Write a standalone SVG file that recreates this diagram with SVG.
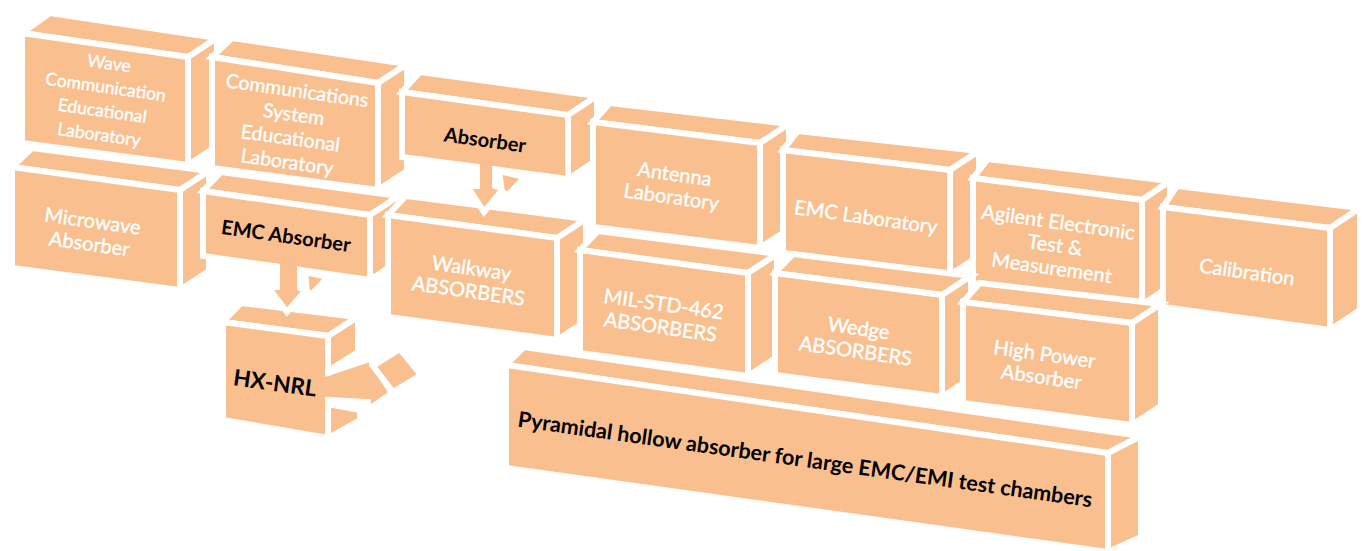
<svg xmlns="http://www.w3.org/2000/svg" width="1366" height="551" viewBox="0 0 1366 551">
<style>
.f{fill:#F9BF8F;stroke:#FFFFFF;stroke-width:6;stroke-linejoin:miter}
.p{fill:#F9BF8F}
.w{font-family:Lato,"Open Sans",sans-serif;font-size:20px;fill:#FFFFFF;stroke:#FFFFFF;stroke-width:0.35;text-anchor:middle}
.b{font-family:Lato,"Open Sans",sans-serif;font-weight:bold;font-size:20px;fill:#000000;text-anchor:middle}
</style>
<rect width="1366" height="551" fill="#FFFFFF"/>
<g id="node-wave">
<polygon class="f" points="22,33 188,57 217,38 50,13"/>
<polygon class="f" points="188,57 217,38 217,146 188,165"/>
<polygon class="f" points="22,33 188,57 188,165 22,143"/>
<text class="w" style="font-size:17.5px" transform="translate(104,99) rotate(8)"><tspan x="0" y="-30">Wave</tspan><tspan x="0" dy="24">Communication</tspan><tspan x="0" dy="24">Educational</tspan><tspan x="0" dy="24">Laboratory</tspan></text>
</g>
<g id="node-comm">
<polygon class="f" points="212,57 378,83 407,64 232,38"/>
<polygon class="f" points="378,83 407,64 407,171 378,190"/>
<polygon class="f" points="212,57 378,83 378,190 212,168"/>
<text class="w" style="font-size:19.5px" transform="translate(292,127) rotate(8)"><tspan x="0" y="-30">Communications</tspan><tspan x="0" dy="24">System</tspan><tspan x="0" dy="24">Educational</tspan><tspan x="0" dy="24">Laboratory</tspan></text>
</g>
<g id="node-absorber">
<polygon class="f" points="402,92 568,115 597,96 420,72"/>
<polygon class="f" points="568,115 597,96 597,160 568,179"/>
<polygon class="f" points="402,92 568,115 568,179 402,157"/>
<text class="b" transform="translate(485,140) rotate(8)"><tspan x="0" y="7">Absorber</tspan></text>
</g>
<g id="node-antenna">
<polygon class="f" points="593,122 760,143 789,124 610,103"/>
<polygon class="f" points="760,143 789,124 789,229 760,248"/>
<polygon class="f" points="593,122 760,143 760,248 593,227"/>
<text class="w" transform="translate(673,186) rotate(8)"><tspan x="0" y="-5">Antenna</tspan><tspan x="0" dy="23">Laboratory</tspan></text>
</g>
<g id="node-emclab">
<polygon class="f" points="783,150 950,170 979,151 798,131"/>
<polygon class="f" points="950,170 979,151 979,256 950,275"/>
<polygon class="f" points="783,150 950,170 950,275 783,253"/>
<text class="w" transform="translate(866,217) rotate(8)"><tspan x="0" y="7">EMC Laboratory</tspan></text>
</g>
<g id="node-agilent">
<polygon class="f" points="973,178 1142,200 1170,181 988,159"/>
<polygon class="f" points="1142,200 1170,181 1170,286 1142,305"/>
<polygon class="f" points="973,178 1142,200 1142,305 973,283"/>
<text class="w" transform="translate(1055,245) rotate(8)"><tspan x="0" y="-16">Agilent Electronic</tspan><tspan x="0" dy="23">Test &amp;</tspan><tspan x="0" dy="23">Measurement</tspan></text>
</g>
<g id="node-calibration">
<polygon class="f" points="1163,207 1330,228 1360,208 1177,186"/>
<polygon class="f" points="1330,228 1360,208 1360,310 1330,330"/>
<polygon class="f" points="1163,207 1330,228 1330,330 1163,307"/>
<text class="w" transform="translate(1247,272) rotate(8)"><tspan x="0" y="7">Calibration</tspan></text>
</g>
<g id="node-hxnrl">
<polygon class="f" points="223,322 328,336 357,317 241,303"/>
<polygon class="f" points="328,336 358,317 358,352 328,371"/>
<polygon class="f" points="328,404 360,410 360,420 328,438"/>
<polygon class="f" points="223,322 328,336 328,438 223,420"/>
<text class="b" style="font-size:22.5px" transform="translate(275,383) rotate(8)"><tspan x="0" y="8">HX-NRL</tspan></text>
</g>
<g id="node-microwave">
<polygon class="f" points="12,167 180,190 209,171 32,148"/>
<polygon class="f" points="180,190 209,171 209,271 180,290"/>
<polygon class="f" points="12,167 180,190 180,290 12,268"/>
<text class="w" transform="translate(91,233) rotate(8)"><tspan x="0" y="-5">Microwave</tspan><tspan x="0" dy="23">Absorber</tspan></text>
</g>
<g id="node-emcabsorber">
<polygon class="f" points="203,191 370,215 399,196 221,172"/>
<polygon class="f" points="370,215 399,196 399,261 370,280"/>
<polygon class="f" points="203,191 370,215 370,280 203,256"/>
<text class="b" transform="translate(286,236) rotate(8)"><tspan x="0" y="7">EMC Absorber</tspan></text>
</g>
<g id="node-walkway">
<polygon class="f" points="388,215 557,238 586,219 406,196"/>
<polygon class="f" points="557,238 586,219 586,321 557,340"/>
<polygon class="f" points="388,215 557,238 557,340 388,317"/>
<text class="w" transform="translate(470,280) rotate(8)"><tspan x="0" y="-5">Walkway</tspan><tspan x="0" dy="23">ABSORBERS</tspan></text>
</g>
<g id="node-pyramidal">
<polygon class="f" points="506,365 1108,453 1141,436 524,347"/>
<polygon class="f" points="1108,453 1141,436 1141,537 1108,552"/>
<polygon class="f" points="506,365 1108,453 1108,552 506,468"/>
<text class="b" style="font-size:21.5px" transform="translate(805,460) rotate(8)"><tspan x="0" y="7">Pyramidal hollow absorber for large EMC/EMI test chambers</tspan></text>
</g>
<g id="node-mil">
<polygon class="f" points="580,250 748,273 777,254 598,231"/>
<polygon class="f" points="748,273 777,254 777,357 748,376"/>
<polygon class="f" points="580,250 748,273 748,376 580,353"/>
<text class="w" transform="translate(662,316) rotate(8)"><tspan x="0" y="-5">MIL-STD-462</tspan><tspan x="0" dy="23">ABSORBERS</tspan></text>
</g>
<g id="node-wedge">
<polygon class="f" points="775,273 942,295 971,276 793,254"/>
<polygon class="f" points="942,295 971,276 971,378 942,397"/>
<polygon class="f" points="775,273 942,295 942,397 775,375"/>
<text class="w" transform="translate(857,340) rotate(8)"><tspan x="0" y="-5">Wedge</tspan><tspan x="0" dy="23">ABSORBERS</tspan></text>
</g>
<g id="node-highpower">
<polygon class="f" points="963,302 1132,323 1161,304 980,283"/>
<polygon class="f" points="1132,323 1161,304 1161,406 1132,425"/>
<polygon class="f" points="963,302 1132,323 1132,425 963,403"/>
<text class="w" transform="translate(1043,366) rotate(8)"><tspan x="0" y="-5">High Power</tspan><tspan x="0" dy="23">Absorber</tspan></text>
</g>
<g id="connectors">
<polygon class="f" points="477,166.9 495,169.3 495,186 503,189 484,212 467,186 477,186"/>
<polygon class="p" points="480,162 492,163.6 492,176 480,176"/>
<polygon class="f" points="499,171 525,177 508,195 502,192"/>
<polygon class="f" points="277,266.6 300,269.9 300,288 306,290 287,312 268,287 277,287"/>
<polygon class="p" points="280,262 297,264.5 297,276 280,276"/>
<polygon class="f" points="305,272 328,277 312,294 307,292"/>
<polygon class="f" points="328,373 370,359 392,393 368,410 368,402 328,400"/>
<polygon class="p" points="323,377 335,375 335,397 323,397"/>
<polygon class="f" points="373,366 400,349 421,375 393,392"/>
</g>
</svg>
